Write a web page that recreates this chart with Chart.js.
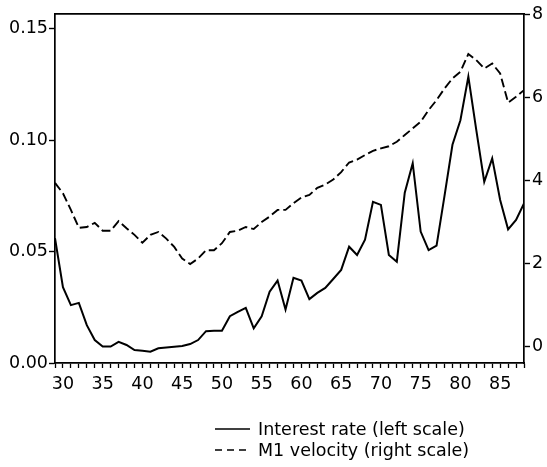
<!DOCTYPE html>
<html>
<head>
<meta charset="utf-8">
<script src="https://cdn.jsdelivr.net/npm/chart.js@4.4.0/dist/chart.umd.min.js"></script>
<style>
  body { margin: 0; background: #fff; }
  #wrap { width: 547px; height: 467px; }
</style>
</head>
<body>
<div id="wrap"><canvas id="chart" width="547" height="467"></canvas></div>
<script>
const years = [29, 30, 31, 32, 33, 34, 35, 36, 37, 38, 39, 40, 41, 42, 43, 44, 45, 46, 47, 48,
    49, 50, 51, 52, 53, 54, 55, 56, 57, 58, 59, 60, 61, 62, 63, 64, 65, 66, 67, 68,
    69, 70, 71, 72, 73, 74, 75, 76, 77, 78, 79, 80, 81, 82, 83, 84, 85, 86, 87, 88];

const interestRate = [0.056, 0.034, 0.026, 0.027, 0.017, 0.0103, 0.0074, 0.0074, 0.0095, 0.0081,
    0.0058, 0.0055, 0.0051, 0.0066, 0.0070, 0.0073, 0.0076, 0.0085, 0.0103, 0.0143,
    0.0145, 0.0145, 0.021, 0.023, 0.0248, 0.0156, 0.021, 0.032, 0.037, 0.024,
    0.0383, 0.037, 0.0287, 0.0315, 0.0337, 0.0377, 0.0418, 0.0522, 0.0485, 0.0554,
    0.0724, 0.0710, 0.0485, 0.0455, 0.0765, 0.0897, 0.059, 0.0507, 0.0527, 0.075,
    0.098, 0.109, 0.1286, 0.1046, 0.0814, 0.0919, 0.0732, 0.060, 0.0642, 0.0717];

const m1Velocity = [3.94, 3.69, 3.29, 2.86, 2.88, 2.98, 2.79, 2.79, 3.02, 2.85,
    2.69, 2.50, 2.69, 2.76, 2.60, 2.40, 2.12, 1.99, 2.12, 2.32,
    2.32, 2.49, 2.76, 2.79, 2.88, 2.83, 3.00, 3.13, 3.29, 3.29,
    3.45, 3.59, 3.65, 3.82, 3.90, 4.02, 4.20, 4.43, 4.50, 4.61,
    4.71, 4.77, 4.82, 4.93, 5.09, 5.25, 5.41, 5.69, 5.93, 6.21,
    6.45, 6.61, 7.04, 6.89, 6.69, 6.81, 6.57, 5.87, 6.01, 6.17];

const seriesLabels = ["Interest rate (left scale)", "M1 velocity (right scale)"];
const leftTicks = [0.00, 0.05, 0.10, 0.15];
const rightTicks = [0, 2, 4, 6, 8];

const toPoints = (values) => years.map((yr, i) => ({ x: yr, y: values[i] }));

Chart.defaults.font.family = "'DejaVu Sans', sans-serif";
Chart.defaults.font.size = 17.5;
Chart.defaults.color = "#000";

// legend drawn under the plot, two stacked rows like the original
const stackedLegend = {
    id: "stackedLegend",
    afterDraw(chart) {
        const ctx = chart.ctx;
        ctx.save();
        ctx.font = "17.5px 'DejaVu Sans', sans-serif";
        ctx.fillStyle = "#000";
        ctx.textBaseline = "middle";
        chart.data.datasets.forEach((ds, i) => {
            const y = 429 + i * 21;
            ctx.strokeStyle = "#000";
            ctx.lineWidth = 1.7;
            ctx.setLineDash(ds.borderDash ? [7, 5] : []);
            ctx.beginPath();
            ctx.moveTo(215, y);
            ctx.lineTo(250, y);
            ctx.stroke();
            ctx.setLineDash([]);
            ctx.fillText(ds.label, 258, y + 1);
        });
        ctx.restore();
    }
};

const axisBorder = { display: true, color: "#000", width: 1.7 };
const tickGrid = { drawOnChartArea: false, drawTicks: true, tickLength: 6, tickColor: "#000", tickWidth: 1.4 };

const ctx = document.getElementById("chart").getContext("2d");
const chart = new Chart(ctx, {
    type: "line",
    data: {
        datasets: [
            {
                label: seriesLabels[0],
                data: toPoints(interestRate),
                yAxisID: "y",
                borderColor: "#000",
                borderWidth: 2,
                pointRadius: 0,
                tension: 0
            },
            {
                label: seriesLabels[1],
                data: toPoints(m1Velocity),
                yAxisID: "y1",
                borderColor: "#000",
                borderWidth: 1.9,
                borderDash: [9, 4],
                pointRadius: 0,
                tension: 0
            }
        ]
    },
    plugins: [stackedLegend],
    options: {
        responsive: false,
        animation: false,
        layout: { padding: { top: 14, bottom: 70, left: 0, right: 0 } },
        plugins: {
            legend: { display: false },
            tooltip: { enabled: false }
        },
        scales: {
            x: {
                type: "linear",
                position: "bottom",
                min: 29,
                max: 88,
                border: axisBorder,
                grid: { drawOnChartArea: false, drawTicks: true, tickLength: 5, tickColor: "#000", tickWidth: 1.3 },
                ticks: {
                    stepSize: 1,
                    autoSkip: false,
                    maxRotation: 0,
                    padding: 6,
                    callback: (v) => (v % 5 === 0 ? String(v) : "")
                },
                afterFit: (s) => { s.height = 34; }
            },
            xTop: {
                type: "linear",
                position: "top",
                min: 29,
                max: 88,
                border: axisBorder,
                grid: { display: false, drawTicks: false },
                ticks: { display: false },
                afterFit: (s) => { s.height = 0; }
            },
            y: {
                position: "left",
                min: 0,
                max: 0.1567,
                border: axisBorder,
                grid: tickGrid,
                ticks: {
                    stepSize: 0.05,
                    includeBounds: false,
                    padding: 1,
                    callback: (v) => (leftTicks.some(t => Math.abs(t - v) < 1e-6) ? v.toFixed(2) : "")
                },
                afterFit: (s) => { s.width = 55; }
            },
            y1: {
                position: "right",
                min: -0.39,
                max: 8,
                border: axisBorder,
                grid: tickGrid,
                ticks: {
                    stepSize: 2,
                    includeBounds: false,
                    padding: 2,
                    callback: (v) => (rightTicks.includes(v) ? String(v) : "")
                },
                afterFit: (s) => { s.width = 23; }
            }
        }
    }
});
</script>
</body>
</html>
